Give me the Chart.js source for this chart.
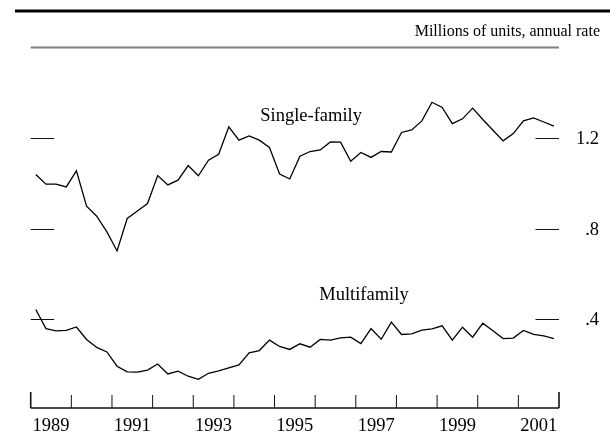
<!DOCTYPE html>
<html>
<head>
<meta charset="utf-8">
<script src="https://cdn.jsdelivr.net/npm/chart.js@4.4.0/dist/chart.umd.min.js"></script>
<style>
  body { margin: 0; background: #fff; }
  canvas { display: block; }
</style>
</head>
<body>
<canvas id="starts" width="610" height="434"></canvas>
<script>
// quarterly housing starts, 1989:Q1 - 2001:Q4
const years = [1989, 1990, 1991, 1992, 1993, 1994, 1995, 1996, 1997, 1998, 1999, 2000, 2001];
const quarters = years.flatMap(y => ['Q1', 'Q2', 'Q3', 'Q4'].map(q => y + q));

const singleFamily = [
  1.039, 0.996, 0.996, 0.984, 1.055, 0.899, 0.855, 0.786, 0.702, 0.845,
  0.878, 0.911, 1.034, 0.993, 1.014, 1.078, 1.033, 1.102, 1.128, 1.249,
  1.190, 1.209, 1.190, 1.158, 1.041, 1.019, 1.119, 1.140, 1.147, 1.182,
  1.181, 1.097, 1.136, 1.114, 1.140, 1.138, 1.224, 1.235, 1.275, 1.357,
  1.334, 1.263, 1.284, 1.331, 1.281, 1.234, 1.187, 1.219, 1.275, 1.288,
  1.270, 1.252
];
const multiFamily = [
  0.444, 0.360, 0.350, 0.352, 0.367, 0.312, 0.277, 0.257, 0.194, 0.169,
  0.168, 0.177, 0.204, 0.160, 0.172, 0.150, 0.136, 0.163, 0.174, 0.187,
  0.200, 0.253, 0.263, 0.309, 0.281, 0.268, 0.293, 0.278, 0.312, 0.309,
  0.319, 0.322, 0.294, 0.360, 0.313, 0.388, 0.334, 0.337, 0.353, 0.359,
  0.372, 0.309, 0.366, 0.322, 0.384, 0.350, 0.316, 0.318, 0.352, 0.334,
  0.328, 0.316
];

const yTicks = [0.4, 0.8, 1.2];
const yTickLabels = ['.4', '.8', '1.2'];
const yearLabels = ['1989', '1991', '1993', '1995', '1997', '1999', '2001'];

const serif = "'Liberation Serif', 'Times New Roman', serif";

// series names sit at (quarter index, value) on the chart's scales
const seriesNotes = [
  { text: 'Single-family', at: 27.1, value: 1.297 },
  { text: 'Multifamily', at: 32.3, value: 0.507 }
];

const fedStyle = {
  id: 'fedStyle',
  afterDraw(chart) {
    const ctx = chart.ctx;
    const x = chart.scales.x;
    const y = chart.scales.y;
    const area = chart.chartArea;
    ctx.save();

    // header rules and unit note
    ctx.strokeStyle = '#000';
    ctx.lineWidth = 3;
    ctx.beginPath();
    ctx.moveTo(15, 11);
    ctx.lineTo(610, 11);
    ctx.stroke();

    ctx.fillStyle = '#000';
    ctx.font = '16px ' + serif;
    ctx.textAlign = 'right';
    ctx.textBaseline = 'middle';
    ctx.fillText('Millions of units, annual rate', 600, 32);

    ctx.strokeStyle = '#808080';
    ctx.lineWidth = 2;
    ctx.beginPath();
    ctx.moveTo(area.left, 47.5);
    ctx.lineTo(area.right, 47.5);
    ctx.stroke();

    // value ticks on both sides, labels on the right
    ctx.strokeStyle = '#111';
    ctx.lineWidth = 1;
    ctx.font = '18.5px ' + serif;
    yTicks.forEach((v, i) => {
      const py = Math.round(y.getPixelForValue(v)) + 0.5;
      ctx.beginPath();
      ctx.moveTo(area.left, py);
      ctx.lineTo(area.left + 23.5, py);
      ctx.moveTo(area.right - 23.5, py);
      ctx.lineTo(area.right, py);
      ctx.stroke();
      ctx.fillText(yTickLabels[i], 599, py + 1);
    });

    // time axis
    ctx.lineWidth = 1.5;
    ctx.beginPath();
    ctx.moveTo(area.left, area.bottom);
    ctx.lineTo(area.right, area.bottom);
    ctx.stroke();
    for (let k = 0; k <= years.length; k++) {
      const px = x.getPixelForValue(k * 4 - 0.5);
      const edge = k === 0 || k === years.length;
      ctx.lineWidth = edge ? 1.6 : 1;
      ctx.beginPath();
      ctx.moveTo(px, area.bottom);
      ctx.lineTo(px, area.bottom - (edge ? 16 : 13));
      ctx.stroke();
    }
    ctx.textAlign = 'center';
    yearLabels.forEach(label => {
      const k = years.indexOf(Number(label));
      ctx.fillText(label, x.getPixelForValue(k * 4 + 1.5), 426);
    });

    // series names
    seriesNotes.forEach(n => {
      ctx.fillText(n.text, x.getPixelForValue(n.at), y.getPixelForValue(n.value));
    });

    ctx.restore();
  }
};

new Chart(document.getElementById('starts'), {
  type: 'line',
  data: {
    labels: quarters,
    datasets: [
      { label: 'Single-family', data: singleFamily },
      { label: 'Multifamily', data: multiFamily }
    ]
  },
  options: {
    responsive: false,
    animation: false,
    layout: { padding: { left: 30.7, right: 51, top: 92.5, bottom: 26 } },
    elements: {
      line: { borderColor: '#000', borderWidth: 1.3, tension: 0 },
      point: { radius: 0 }
    },
    scales: {
      x: { type: 'category', offset: true, display: false },
      y: { min: 0.01, max: 1.4, display: false }
    },
    plugins: {
      legend: { display: false },
      tooltip: { enabled: false }
    }
  },
  plugins: [fedStyle]
});
</script>
</body>
</html>
